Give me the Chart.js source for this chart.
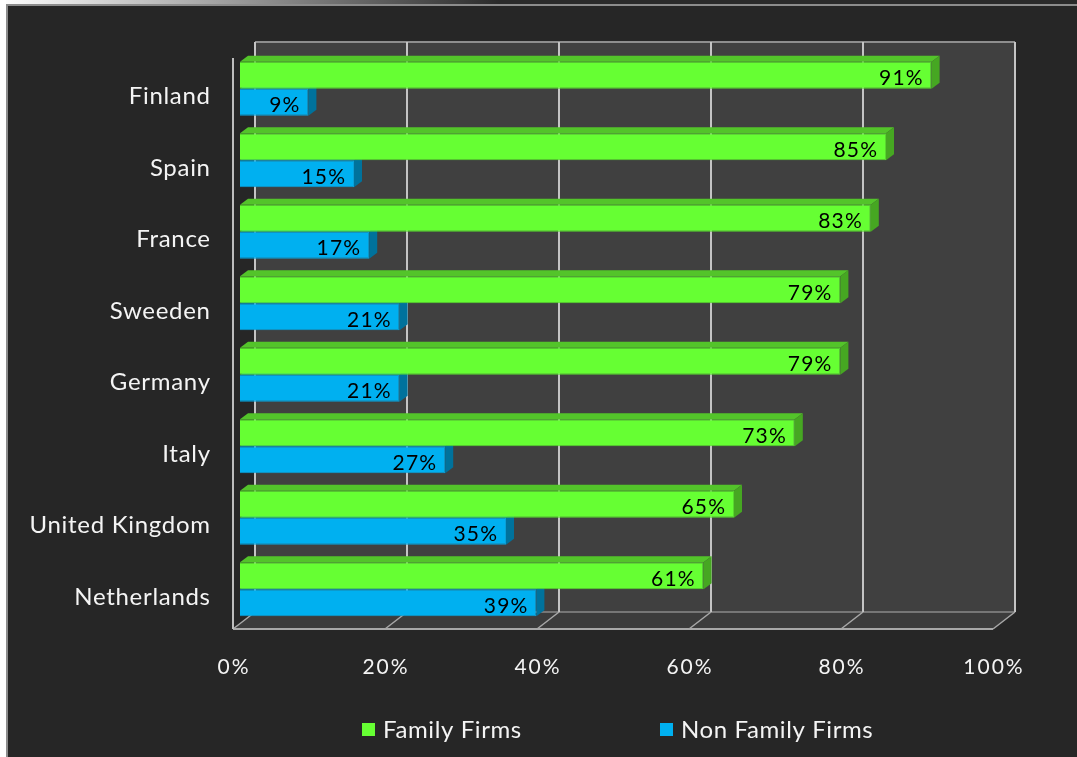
<!DOCTYPE html>
<html lang="en">
<head>
<meta charset="UTF-8">
<title>Family vs Non Family Firms</title>
<script src="https://cdn.jsdelivr.net/npm/chart.js"></script>
<style>
    body { margin: 0; background: #262626; }
    canvas { display: block; }
</style>
</head>
<body>
<canvas id="firms" width="1077" height="757"></canvas>
<script>
    const countries = ["Finland", "Spain", "France", "Sweeden", "Germany", "Italy", "United Kingdom", "Netherlands"];
    const familyFirms = [91, 85, 83, 79, 79, 73, 65, 61];
    const nonFamilyFirms = [9, 15, 17, 21, 21, 27, 35, 39];
    const xTicks = [0, 20, 40, 60, 80, 100];

    const FONT = '"Lato", "Open Sans", sans-serif';
    const BAR_DX = 8, BAR_DY = 6;      // extrusion of each bar
    const WALL_DX = 15;                // back wall sits behind the bars
    const FRONT_DX = -7;               // front edge of the floor

    const faceColors = [
        { top: "#53c42a", side: "#46a722" },
        { top: "#0091c6", side: "#00729c" }
    ];

    function poly(ctx, pts, fill) {
        ctx.beginPath();
        ctx.moveTo(pts[0][0], pts[0][1]);
        for (let i = 1; i < pts.length; i++) ctx.lineTo(pts[i][0], pts[i][1]);
        ctx.closePath();
        ctx.fillStyle = fill;
        ctx.fill();
    }

    function line(ctx, x1, y1, x2, y2, color, w) {
        ctx.beginPath();
        ctx.moveTo(x1, y1);
        ctx.lineTo(x2, y2);
        ctx.strokeStyle = color;
        ctx.lineWidth = w;
        ctx.stroke();
    }

    // text with extra tracking; right/center alignment ignores the trailing gap
    function spacedText(ctx, text, x, y, spacing, align) {
        ctx.letterSpacing = spacing + "px";
        ctx.textAlign = "left";
        const w = ctx.measureText(text).width - spacing;
        let left = x;
        if (align === "right") left = x - w;
        else if (align === "center") left = x - w / 2;
        ctx.fillText(text, left, y);
        ctx.letterSpacing = "0px";
    }

    const boxPlugin = {
        id: "box3d",
        beforeDraw(chart) {
            const ctx = chart.ctx;
            ctx.save();
            ctx.fillStyle = "#262626";
            ctx.fillRect(0, 0, chart.width, chart.height);
            // page edge and frame lines
            const g = ctx.createLinearGradient(0, 0, 500, 0);
            g.addColorStop(0, "#ffffff");
            g.addColorStop(1, "#2a2a2a");
            ctx.fillStyle = g;
            ctx.fillRect(0, 0, chart.width, 4);
            ctx.fillStyle = "#ffffff";
            ctx.fillRect(0, 0, 6, chart.height);
            ctx.fillStyle = "#8c8c8c";
            ctx.fillRect(6, 4, chart.width - 6, 2);
            ctx.fillRect(6, 4, 2, chart.height - 4);
            ctx.restore();
        },
        beforeDatasetsDraw(chart) {
            const ctx = chart.ctx;
            const xs = chart.scales.x;
            const area = chart.chartArea;
            const wallTop = area.top - 11;
            const wallBottom = area.bottom - 13;
            const floorFront = area.bottom + 4;
            const x0 = xs.getPixelForValue(0), x1 = xs.getPixelForValue(100);
            ctx.save();
            // back wall and floor
            ctx.fillStyle = "#404040";
            ctx.fillRect(x0 + WALL_DX, wallTop, x1 - x0, wallBottom - wallTop);
            poly(ctx, [[x0 + WALL_DX, wallBottom], [x1 + WALL_DX, wallBottom],
                       [x1 + FRONT_DX, floorFront], [x0 + FRONT_DX, floorFront]], "#3c3c3c");
            line(ctx, x0 + WALL_DX, wallTop, x1 + WALL_DX, wallTop, "#8e8e8e", 2);
            line(ctx, x0 + WALL_DX, wallBottom, x1 + WALL_DX, wallBottom, "#8a8a8a", 1.5);
            line(ctx, x0 + FRONT_DX, floorFront, x1 + FRONT_DX, floorFront, "#a8a8a8", 2);
            xTicks.forEach(v => {
                const px = xs.getPixelForValue(v);
                line(ctx, px + WALL_DX, wallTop, px + WALL_DX, wallBottom, "#c4c4c4", 2);
                line(ctx, px + WALL_DX, wallBottom, px + FRONT_DX, floorFront, "#a8a8a8", 1.5);
            });
            line(ctx, x0 + FRONT_DX, area.top + 5, x0 + FRONT_DX, floorFront, "#bdbdbd", 2);

            // extruded top and side faces, the front faces are drawn over them
            chart.data.datasets.forEach((ds, di) => {
                const meta = chart.getDatasetMeta(di);
                const c = faceColors[di];
                meta.data.forEach(bar => {
                    const p = bar.getProps(["x", "y", "base", "height"], true);
                    const top = p.y - p.height / 2, bottom = p.y + p.height / 2;
                    poly(ctx, [[p.base, top], [p.base + BAR_DX, top - BAR_DY],
                               [p.x + BAR_DX, top - BAR_DY], [p.x, top]], c.top);
                    poly(ctx, [[p.x, top], [p.x + BAR_DX, top - BAR_DY],
                               [p.x + BAR_DX, bottom - BAR_DY], [p.x, bottom]], c.side);
                });
            });
            ctx.restore();
        },
        afterDatasetsDraw(chart) {
            const ctx = chart.ctx;
            ctx.save();
            ctx.font = "21px " + FONT;
            ctx.fillStyle = "#000000";
            ctx.textBaseline = "middle";
            chart.data.datasets.forEach((ds, di) => {
                chart.getDatasetMeta(di).data.forEach((bar, i) => {
                    const p = bar.getProps(["x", "y"], true);
                    spacedText(ctx, ds.data[i] + "%", p.x - 9, p.y + 3, 1.2, "right");
                });
            });
            ctx.restore();
        },
        afterDraw(chart) {
            const ctx = chart.ctx;
            const xs = chart.scales.x, ys = chart.scales.y;
            const area = chart.chartArea;
            ctx.save();
            ctx.fillStyle = "#f4f4f4";
            ctx.textBaseline = "middle";

            // category labels
            ctx.font = "24px " + FONT;
            countries.forEach((c, i) => {
                spacedText(ctx, c, area.left - 30, ys.getPixelForValue(i) + 8, 0.7, "right");
            });

            // value axis labels along the floor's front edge
            ctx.font = "21px " + FONT;
            xTicks.forEach(v => {
                spacedText(ctx, v + "%", xs.getPixelForValue(v) + FRONT_DX, area.bottom + 42, 2, "center");
            });

            // legend
            ctx.font = "24px " + FONT;
            const legendX = [362, 660];
            const legendY = 730;
            chart.data.datasets.forEach((ds, di) => {
                ctx.fillStyle = ds.backgroundColor;
                ctx.fillRect(legendX[di], legendY - 7, 13, 13);
                ctx.fillStyle = "#f4f4f4";
                spacedText(ctx, ds.label, legendX[di] + 21, legendY, 0.6, "left");
            });
            ctx.restore();
        }
    };

    new Chart(document.getElementById("firms"), {
        type: "bar",
        data: {
            labels: countries,
            datasets: [
                {
                    label: "Family Firms",
                    data: familyFirms,
                    backgroundColor: "#66ff33",
                    borderColor: "#58d62e",
                    borderWidth: 1
                },
                {
                    label: "Non Family Firms",
                    data: nonFamilyFirms,
                    backgroundColor: "#00b0f0",
                    borderColor: "#0aa0d8",
                    borderWidth: 1
                }
            ]
        },
        options: {
            indexAxis: "y",
            responsive: false,
            animation: false,
            layout: { padding: { left: 240, right: 77, top: 53, bottom: 132 } },
            datasets: { bar: { categoryPercentage: 0.756, barPercentage: 1 } },
            scales: {
                x: { display: false, min: 0, max: 100 },
                y: { display: false }
            },
            plugins: {
                legend: { display: false },
                tooltip: { enabled: false }
            }
        },
        plugins: [boxPlugin]
    });
</script>
</body>
</html>
